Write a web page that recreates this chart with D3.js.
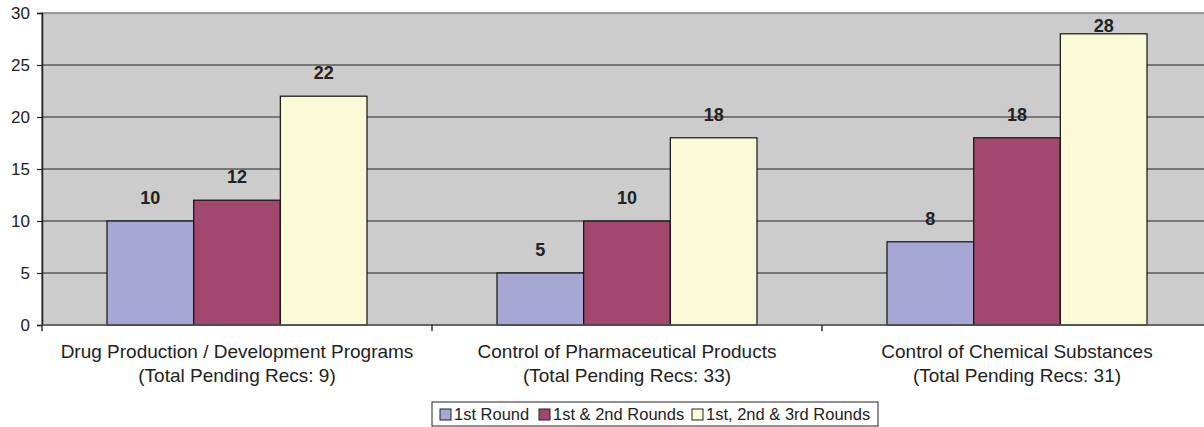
<!DOCTYPE html>
<meta charset="utf-8">
<script src="https://d3js.org/d3.v7.min.js"></script>
<style>
  body { margin: 0; background: #fff; }
  text { font-family: "Liberation Sans", Arial, sans-serif; fill: #222; }
</style>
<svg id="chart" width="1204" height="427"></svg>
<script>
  // data
  var categories = [
    ["Drug Production / Development Programs", "(Total Pending Recs: 9)"],
    ["Control of Pharmaceutical Products", "(Total Pending Recs: 33)"],
    ["Control of Chemical Substances", "(Total Pending Recs: 31)"]
  ];
  var seriesNames = ["1st Round", "1st & 2nd Rounds", "1st, 2nd & 3rd Rounds"];
  var round1 = [10, 5, 8];
  var round12 = [12, 10, 18];
  var round123 = [22, 18, 28];
  var yTicks = [0, 5, 10, 15, 20, 25, 30];
  var colors = ["#a7a7d3", "#a2486f", "#fafad6"];

  var svg = d3.select("#chart");
  var mLeft = 42, mTop = 13, mRight = 1212, mBottom = 325;

  var x = d3.scaleBand().domain(d3.range(categories.length)).range([mLeft, mRight]);
  var xs = d3.scaleBand().domain(d3.range(seriesNames.length))
      .range([0, x.bandwidth()]).paddingOuter(0.75).paddingInner(0);
  var y = d3.scaleLinear().domain([0, 30]).range([mBottom, mTop]);

  // plot background
  svg.append("rect")
      .attr("x", mLeft).attr("y", mTop)
      .attr("width", mRight - mLeft).attr("height", mBottom - mTop)
      .attr("fill", "#cccccc")
      .attr("stroke", "#808080").attr("stroke-width", 1.5);

  // gridlines
  svg.append("g")
    .selectAll("line")
    .data(yTicks.filter(function(d){ return d > 0 && d < 30 }))
    .enter()
    .append("line")
      .attr("x1", mLeft).attr("x2", mRight)
      .attr("y1", function(d){ return y(d) }).attr("y2", function(d){ return y(d) })
      .attr("stroke", "#222").attr("stroke-width", 1.2);

  // bars
  var series = [round1, round12, round123];
  var groups = svg.append("g")
    .selectAll("g")
    .data(categories)
    .enter()
    .append("g")
      .attr("transform", function(d, i){ return "translate(" + x(i) + ",0)" });

  groups.selectAll("rect")
    .data(function(d, i){ return series.map(function(s, j){ return {s: j, v: s[i]} }) })
    .enter()
    .append("rect")
      .attr("x", function(d){ return xs(d.s) })
      .attr("y", function(d){ return y(d.v) })
      .attr("width", xs.bandwidth())
      .attr("height", function(d){ return y(0) - y(d.v) })
      .attr("fill", function(d){ return colors[d.s] })
      .attr("stroke", "#111").attr("stroke-width", 1.2);

  // value labels (kept inside the plot area, like the original)
  groups.selectAll("text.val")
    .data(function(d, i){ return series.map(function(s, j){ return {s: j, v: s[i]} }) })
    .enter()
    .append("text")
      .attr("class", "val")
      .attr("x", function(d){ return xs(d.s) + xs.bandwidth() / 2 })
      .attr("y", function(d){ return Math.max(y(d.v) - 17, mTop + 19) })
      .attr("text-anchor", "middle")
      .style("font-size", "18px")
      .style("font-weight", "bold")
      .text(function(d){ return d.v });

  // y axis
  var yAxis = svg.append("g")
      .attr("transform", "translate(" + mLeft + ",0)")
      .call(d3.axisLeft(y).tickValues(yTicks).tickSize(5).tickPadding(7));
  yAxis.select(".domain").attr("stroke", "#222").attr("stroke-width", 1.5);
  yAxis.selectAll(".tick line").attr("stroke", "#222").attr("stroke-width", 1.2);
  yAxis.selectAll(".tick text").style("font-size", "17px")
      .style("font-family", "Liberation Sans, Arial, sans-serif").attr("fill", "#222");

  // x axis
  var xAxis = svg.append("g")
      .attr("transform", "translate(0," + mBottom + ")");
  xAxis.append("line")
      .attr("x1", mLeft).attr("x2", mRight)
      .attr("stroke", "#555").attr("stroke-width", 1.5);
  xAxis.selectAll("line.tk")
    .data(d3.range(categories.length + 1))
    .enter()
    .append("line")
      .attr("class", "tk")
      .attr("x1", function(d){ return mLeft + d * x.step() })
      .attr("x2", function(d){ return mLeft + d * x.step() })
      .attr("y1", 0).attr("y2", 6)
      .attr("stroke", "#333").attr("stroke-width", 1.5);

  var cat = svg.append("g")
    .selectAll("text")
    .data(categories)
    .enter()
    .append("text")
      .attr("text-anchor", "middle")
      .style("font-size", "19px")
      .attr("y", 358);
  cat.selectAll("tspan")
    .data(function(d, i){ return d.map(function(t){ return {t: t, i: i} }) })
    .enter()
    .append("tspan")
      .attr("x", function(d){ return x(d.i) + x.bandwidth() / 2 })
      .attr("dy", function(d, k){ return k === 0 ? 0 : 24 })
      .text(function(d){ return d.t });

  // legend
  var lg = svg.append("g").attr("transform", "translate(432,402)");
  lg.append("rect")
      .attr("width", 446).attr("height", 24)
      .attr("fill", "#fff").attr("stroke", "#222").attr("stroke-width", 1);
  var lx = [8, 107, 260];
  seriesNames.forEach(function(n, i){
    lg.append("rect")
        .attr("x", lx[i]).attr("y", 7)
        .attr("width", 11).attr("height", 11)
        .attr("fill", colors[i]).attr("stroke", "#222").attr("stroke-width", 1);
    lg.append("text")
        .attr("x", lx[i] + 14).attr("y", 18)
        .style("font-size", "16.5px")
        .text(n);
  });
</script>
